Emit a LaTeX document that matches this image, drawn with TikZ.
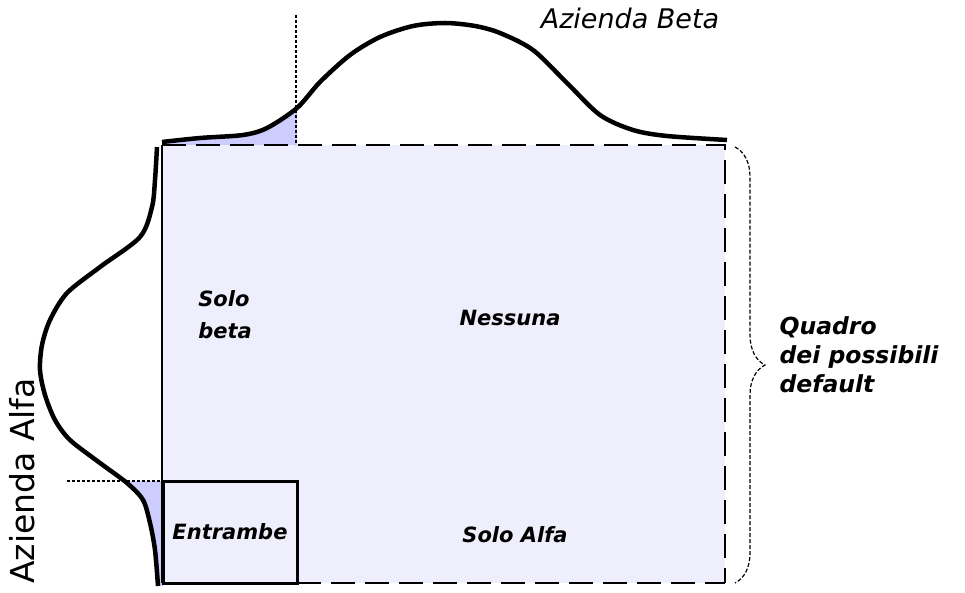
\documentclass[tikz,border=0pt]{standalone}
\usepackage{fontspec}
\setmainfont{DejaVu Sans}
\usetikzlibrary{decorations.pathreplacing}
\definecolor{quadrofill}{HTML}{EEEEFC}
\definecolor{codafill}{HTML}{CCCCFF}
\newcommand{\betacurve}{(162,142) (200,138) (243,135) (267,128) (297,108) (320,82) (350,55) (380,37) (413,26) (445,23) (475,26) (500,33) (533,50) (567,83) (600,115) (633,130) (667,136) (727,140)}
\newcommand{\alfacurve}{(157,147) (155,180) (152,207) (140,237) (100,267) (67,293) (50,320) (42,345) (40,370) (45,395) (55,420) (70,440) (100,463) (127,483) (143,500) (150,523) (155,550) (158,586)}
\begin{document}
\begin{tikzpicture}[x=1pt,y=-1pt,
    curva/.style={line width=4.5pt, line join=round},
    guida/.style={line width=1.2pt, dash pattern=on 3pt off 2pt},
    bordo/.style={line width=2pt, dash pattern=on 24pt off 10pt},
    etichetta/.style={font=\fontsize{21}{32}\selectfont\bfseries\itshape}]
        \useasboundingbox (0,0) rectangle (965,593);
        % Quadro
        \fill[quadrofill] (162,145) rectangle (725,583);
        % Code
        \begin{scope}
            \clip (162,0) rectangle (297,145);
            \fill[codafill] plot[smooth] coordinates {\betacurve} -- (727,145) -- (162,145) -- cycle;
        \end{scope}
        \begin{scope}
            \clip (0,481) rectangle (163,593);
            \fill[codafill] plot[smooth] coordinates {\alfacurve} -- (163,586) -- (163,147) -- cycle;
        \end{scope}
        % Bordi
        \draw[line width=2pt] (162,145) -- (162,583);
        \draw[bordo] (162,145) -- (725,145) -- (725,583);
        \draw[bordo] (297,583) -- (725,583);
        % Soglie
        \coordinate (sogliab) at (296,15);
        \coordinate (sogliaa) at (67,481);
        \draw[guida] (sogliab) -- (296,145);
        \draw[guida] (sogliaa) -- (163,481);
        % Curve
        \draw[curva] plot[smooth] coordinates {\betacurve};
        \draw[curva] plot[smooth] coordinates {\alfacurve};
        % Etichette
        \node[draw, line width=3pt, minimum width=134pt, minimum height=102pt, etichetta] (entrambe) at (230,532) {Entrambe};
        \node[etichetta, align=left] (solobeta) at (225,315) {Solo\\beta};
        \node[etichetta] (nessuna) at (510,318) {Nessuna};
        \node[etichetta] (soloalfa) at (515,535) {Solo Alfa};
        \node[font=\fontsize{27}{32}\selectfont\itshape] (beta) at (630,18) {Azienda Beta};
        \node[font=\fontsize{33}{38}\selectfont, rotate=90] (alfa) at (22,481) {Azienda Alfa};
        % Graffa
        \coordinate (graffa1) at (735,147);
        \coordinate (graffa2) at (735,583);
        \draw[line width=1.2pt, dash pattern=on 4pt off 2pt, decorate, decoration={brace, amplitude=30pt}] (graffa1) -- (graffa2);
        \node[anchor=west, align=left, font=\fontsize{23.5}{29}\selectfont\bfseries\itshape] (quadro) at (776,355) {Quadro\\dei possibili\\default};
    \end{tikzpicture}
\end{document}
